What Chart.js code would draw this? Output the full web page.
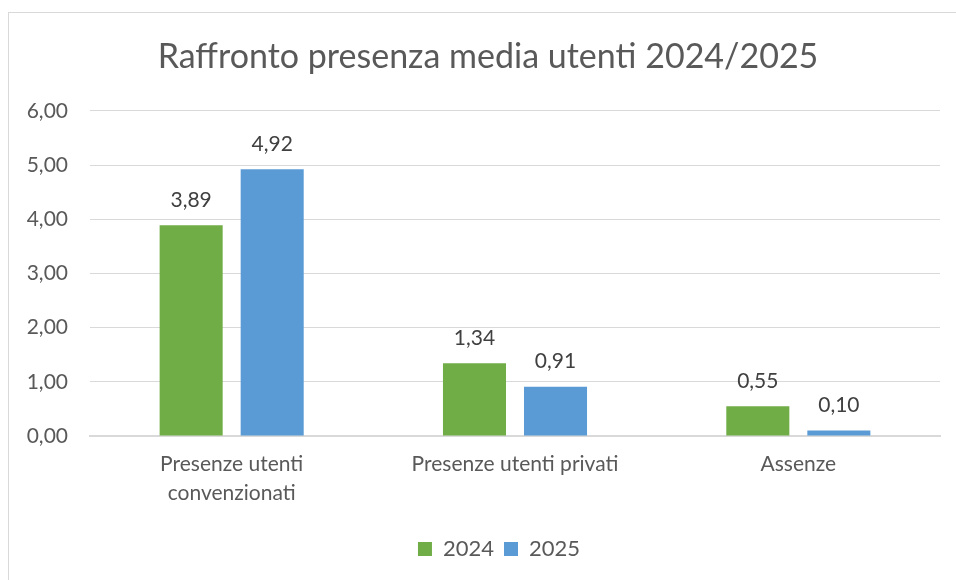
<!DOCTYPE html>
<html>
<head>
<meta charset="utf-8">
<script src="https://cdn.jsdelivr.net/npm/chart.js@4.4.1/dist/chart.umd.min.js"></script>
<style>
  html, body { margin: 0; padding: 0; background: #ffffff; }
  #wrap { position: absolute; left: 0; top: 0; width: 956px; height: 580px; }
  #frame { position: absolute; left: 8px; top: 12px; width: 960px; height: 580px; border: 1px solid #d9d9d9; box-sizing: border-box; pointer-events: none; }
</style>
</head>
<body>
<div id="wrap">
  <canvas id="c" width="956" height="580"></canvas>
  <div id="frame"></div>
</div>
<script>
const categories = [['Presenze utenti', 'convenzionati'], 'Presenze utenti privati', 'Assenze'];
const seriesNames = ['2024', '2025'];
const values2024 = [3.89, 1.34, 0.55];
const values2025 = [4.92, 0.91, 0.10];
const yTicks = [0, 1, 2, 3, 4, 5, 6];
const colors = ['#70AD47', '#5B9BD5'];

const fmt = v => v.toFixed(2).replace('.', ',');
const FONT = 'Lato, "Open Sans", sans-serif';

const dataLabels = {
  id: 'dataLabels',
  afterLayout(chart) {
    if (chart.titleBlock) chart.titleBlock.left = 36;
    if (chart.legend) chart.legend.left = 58;
  },
  afterDatasetsDraw(chart) {
    const ctx = chart.ctx;
    ctx.save();
    ctx.font = '21px ' + FONT;
    ctx.fillStyle = '#404040';
    ctx.textAlign = 'center';
    ctx.textBaseline = 'middle';
    chart.data.datasets.forEach((ds, i) => {
      chart.getDatasetMeta(i).data.forEach((bar, j) => {
        ctx.fillText(fmt(ds.data[j]), bar.x, bar.y - 25);
      });
    });
    ctx.restore();
  }
};

new Chart(document.getElementById('c'), {
  type: 'bar',
  data: {
    labels: categories,
    datasets: [
      { label: seriesNames[0], data: values2024, backgroundColor: colors[0] },
      { label: seriesNames[1], data: values2025, backgroundColor: colors[1] }
    ]
  },
  options: {
    responsive: false,
    animation: false,
    devicePixelRatio: 1,
    layout: { padding: { left: 0, right: 16, top: 22, bottom: 10 } },
    datasets: { bar: { categoryPercentage: 0.572, barPercentage: 0.778 } },
    plugins: {
      title: {
        display: true,
        text: 'Raffronto presenza media utenti 2024/2025',
        color: '#595959',
        font: { family: FONT, size: 34, weight: 'normal', lineHeight: 1.2 },
        padding: { top: 15, bottom: 33 }
      },
      legend: {
        position: 'bottom',
        labels: {
          color: '#595959',
          font: { family: FONT, size: 22, lineHeight: 1.2 },
          boxWidth: 14,
          boxHeight: 14,
          padding: 10
        }
      },
      tooltip: { enabled: false }
    },
    scales: {
      x: {
        afterFit(s) { s.height = 92; },
        grid: { display: false, drawTicks: false },
        border: { display: true, color: '#d9d9d9', width: 2 },
        ticks: { color: '#595959', font: { family: FONT, size: 21, lineHeight: 1.38 }, padding: 14, maxRotation: 0, autoSkip: false }
      },
      y: {
        min: 0, max: 6,
        afterFit(s) { s.width = 90; },
        afterBuildTicks(s) { s.ticks = yTicks.map(v => ({ value: v })); },
        grid: { color: '#d9d9d9', lineWidth: 1, drawTicks: false },
        border: { display: false },
        ticks: { color: '#595959', font: { family: FONT, size: 21 }, padding: 22, callback: v => fmt(v) }
      }
    }
  },
  plugins: [dataLabels]
});
</script>
</body>
</html>
